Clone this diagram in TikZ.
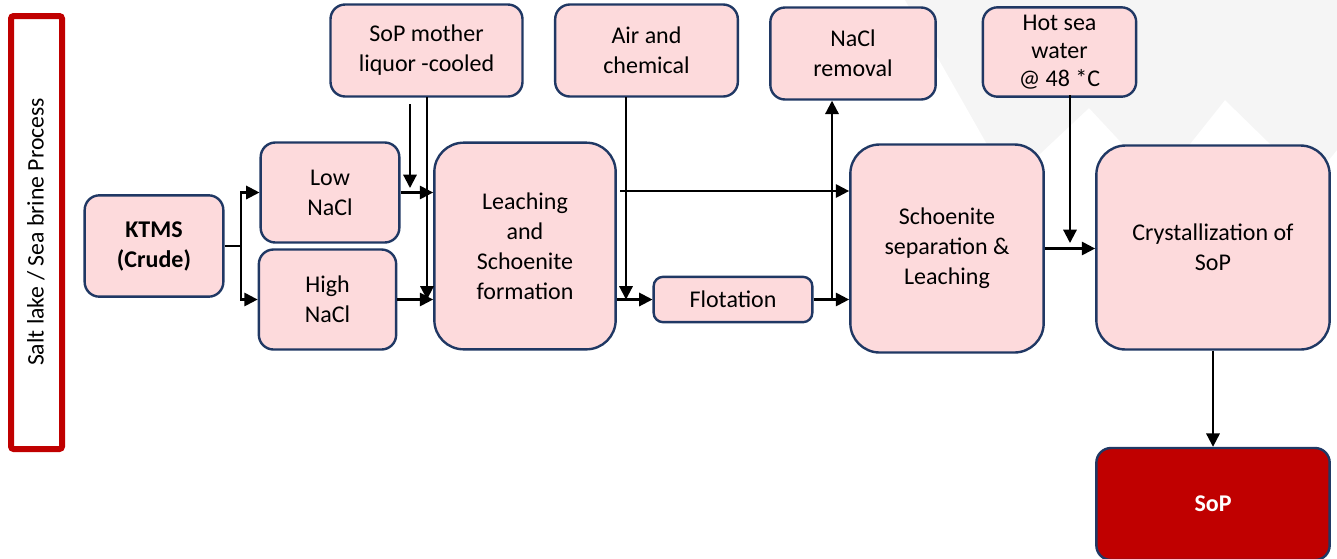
\documentclass[tikz,border=0pt]{standalone}
\usepackage{fontspec}
\setmainfont{Carlito}
\usetikzlibrary{arrows.meta}
\definecolor{boxPink}{RGB}{253, 218, 220}
\definecolor{edgeNavy}{RGB}{32, 56, 100}
\definecolor{sopRed}{RGB}{192, 0, 0}

\tikzset{
  proc/.style={draw=edgeNavy, fill=boxPink, line width=1.8pt, align=center,
    rounded corners=11pt, inner sep=2pt,
    font=\fontsize{18}{22.5}\selectfont},
  bigproc/.style={proc, rounded corners=22pt},
  flow/.style={line width=1.6pt, -{Triangle[length=10pt,width=10pt]}},
  plain/.style={line width=1.6pt}
}

\begin{document}
\begin{tikzpicture}[x=0.75pt, y=-0.75pt]
  \useasboundingbox (0,0) rectangle (1337,558);
  % faint backdrop
  \fill[black!4] (905,0) -- (1009,183) -- (1089,108) -- (1159,183) -- (1225,100)
    -- (1310,183) -- (1337,150) -- (1337,0) -- cycle;

  % side label
  \draw[sopRed, line width=4.5pt, rounded corners=2pt] (11,16) rectangle (62,449);
  \node[rotate=90, font=\fontsize{17.8}{22}\selectfont] (side) at (36,232)
    {Salt lake / Sea brine Process};

  % boxes
  \node[proc, minimum width=104pt, minimum height=76pt] (ktms) at (154,246)
    {\textbf{KTMS}\\\textbf{(Crude)}};
  \node[proc, minimum width=104pt, minimum height=75pt] (low) at (330,192.5) {Low\\NaCl};
  \node[proc, minimum width=103pt, minimum height=75pt] (high) at (327.5,299.5) {High\\NaCl};
  \node[proc, minimum width=144pt, minimum height=69pt] (mother) at (426.5,50.5)
    {SoP mother\\liquor -cooled};
  \node[bigproc, minimum width=136pt, minimum height=155pt] (leach) at (525,246)
    {Leaching\\and\\Schoenite\\formation};
  \node[proc, minimum width=137pt, minimum height=69pt] (air) at (646.5,50.5)
    {Air and\\chemical};
  \node[proc, rounded corners=7pt, minimum width=119pt, minimum height=34pt] (flot)
    at (733,299.5) {Flotation};
  \node[proc, minimum width=124pt, minimum height=69pt] (nacl) at (853,53.5)
    {NaCl\\removal};
  \node[proc, minimum width=115pt, minimum height=67pt, font=\fontsize{18}{21}\selectfont]
    (hot) at (1059.5,52) {Hot sea\\water\\@ 48 *C};
  \node[bigproc, minimum width=145pt, minimum height=156pt] (schoen) at (947,248.5)
    {Schoenite\\separation \&\\Leaching};
  \node[bigproc, minimum width=175pt, minimum height=153pt] (cryst) at (1213,247.5)
    {Crystallization of\\SoP};
  \node[proc, fill=sopRed, text=white, minimum width=175pt, minimum height=84pt]
    (sop) at (1213,504) {\textbf{SoP}};

  % connectors
  \coordinate (split) at (241,246);
  \coordinate (mlA) at (410,104);
  \coordinate (mlB) at (427,97);
  \coordinate (leachTop) at (620,191);
  \coordinate (airOut) at (626,97);
  \coordinate (up) at (832,0);
  \coordinate (hotOut) at (1070,95);
  \coordinate (hotEnd) at (1070,243);

  \draw[plain] (ktms.east) -- (split);
  \draw[flow] (split) |- (low.west);
  \draw[flow] (split) |- (high.west);
  \draw[flow] (mlA) -- ++(0,84);
  \draw[flow] (mlB) -- (mlB |- high.east);
  \draw[flow] (low.east) -- (low.east -| leach.west);
  \draw[flow] (high.east) -- (high.east -| leach.west);
  \draw[flow] (leachTop) -- (leachTop -| schoen.west);
  \draw[flow] (airOut) -- (airOut |- flot.west);
  \draw[flow] (flot.west -| leach.east) -- (flot.west);
  \draw[flow] (flot.east) -- (flot.east -| schoen.west);
  \draw[flow] (flot.east -| up) -- (up |- nacl.south);
  \draw[flow] (schoen.east) -- (schoen.east -| cryst.west);
  \draw[flow] (hotOut) -- (hotEnd);
  \draw[flow] (cryst.south) -- (sop.north);
\end{tikzpicture}
\end{document}
